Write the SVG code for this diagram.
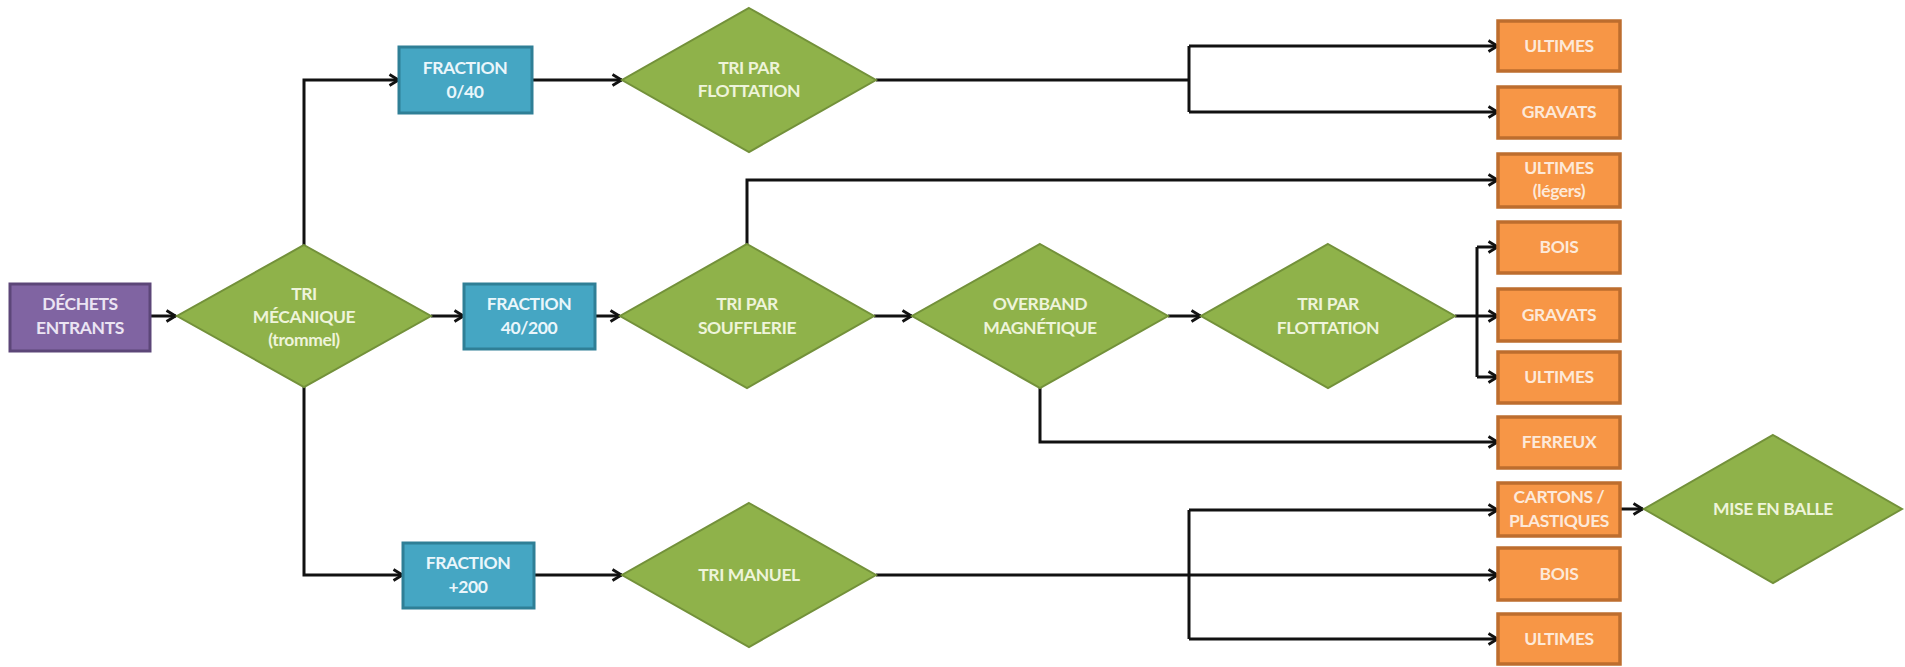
<svg xmlns="http://www.w3.org/2000/svg" width="1905" height="667" viewBox="0 0 1905 667">
<defs>
<marker id="arr" viewBox="0 0 12 14" refX="11" refY="7" markerWidth="12" markerHeight="14" markerUnits="userSpaceOnUse" orient="auto">
<path d="M1.5,1.5 L10.5,7 L1.5,12.5" fill="none" stroke="#111" stroke-width="2.8" stroke-linejoin="miter"/>
</marker>
</defs>
<style>
.txt{font-family:Lato,"Liberation Sans",sans-serif;font-weight:bold;font-size:17.5px;text-anchor:middle;letter-spacing:-0.4px}
.dia{fill:#8fb24a;stroke:#73913a;stroke-width:2}
.dia-t{fill:#eef4da}
.blue{fill:#45a6c3;stroke:#2f7f96;stroke-width:3}
.blue-t{fill:#eaf6fb}
.orange{fill:#f79646;stroke:#bd6d2e;stroke-width:3.5}
.orange-t{fill:#fde9d9}
.purple{fill:#8064a2;stroke:#5c4678;stroke-width:3}
.purple-t{fill:#ebe4f3}
.conn path{fill:none;stroke:#111;stroke-width:3}
</style>
<rect width="1905" height="667" fill="#ffffff"/>

<g id="connectors" class="conn">
<path d="M150,316 H176" marker-end="url(#arr)"/>
<path d="M304,245 V80 H399" marker-end="url(#arr)"/>
<path d="M304,387 V575 H403" marker-end="url(#arr)"/>
<path d="M431,316 H464" marker-end="url(#arr)"/>
<path d="M532,80 H622" marker-end="url(#arr)"/>
<path d="M595,316 H620" marker-end="url(#arr)"/>
<path d="M534,575 H622" marker-end="url(#arr)"/>
<path d="M876,80 H1189"/>
<path d="M1189,46 V112"/>
<path d="M1189,46 H1498" marker-end="url(#arr)"/>
<path d="M1189,112 H1498" marker-end="url(#arr)"/>
<path d="M747,244 V180 H1498" marker-end="url(#arr)"/>
<path d="M874,316 H912" marker-end="url(#arr)"/>
<path d="M1040,388 V442 H1498" marker-end="url(#arr)"/>
<path d="M1168,316 H1201" marker-end="url(#arr)"/>
<path d="M1455,316 H1477"/>
<path d="M1477,247 V377"/>
<path d="M1477,247 H1498" marker-end="url(#arr)"/>
<path d="M1477,316 H1498" marker-end="url(#arr)"/>
<path d="M1477,377 H1498" marker-end="url(#arr)"/>
<path d="M876,575 H1189"/>
<path d="M1189,510 V639"/>
<path d="M1189,510 H1498" marker-end="url(#arr)"/>
<path d="M1189,575 H1498" marker-end="url(#arr)"/>
<path d="M1189,639 H1498" marker-end="url(#arr)"/>
<path d="M1620,509 H1643" marker-end="url(#arr)"/>
</g>

<g id="dechets">
<rect class="purple" x="10" y="284" width="140" height="67"/>
<text class="txt purple-t" x="80" y="310">DÉCHETS</text>
<text class="txt purple-t" x="80" y="334">ENTRANTS</text>
</g>

<g id="tri-mecanique">
<polygon class="dia" points="304,245 431,316 304,387 177,316"/>
<text class="txt dia-t" x="304" y="300">TRI</text>
<text class="txt dia-t" x="304" y="323">MÉCANIQUE</text>
<text class="txt dia-t" x="304" y="346">(trommel)</text>
</g>

<g id="fraction-0-40">
<rect class="blue" x="399" y="47" width="133" height="66"/>
<text class="txt blue-t" x="465" y="74">FRACTION</text>
<text class="txt blue-t" x="465" y="98">0/40</text>
</g>

<g id="tri-flottation-1">
<polygon class="dia" points="749,8 876,80 749,152 622,80"/>
<text class="txt dia-t" x="749" y="74">TRI PAR</text>
<text class="txt dia-t" x="749" y="97">FLOTTATION</text>
</g>

<g id="fraction-40-200">
<rect class="blue" x="464" y="284" width="131" height="65"/>
<text class="txt blue-t" x="529" y="310">FRACTION</text>
<text class="txt blue-t" x="529" y="334">40/200</text>
</g>

<g id="tri-soufflerie">
<polygon class="dia" points="747,244 874,316 747,388 620,316"/>
<text class="txt dia-t" x="747" y="310">TRI PAR</text>
<text class="txt dia-t" x="747" y="334">SOUFFLERIE</text>
</g>

<g id="overband">
<polygon class="dia" points="1040,244 1168,316 1040,388 912,316"/>
<text class="txt dia-t" x="1040" y="310">OVERBAND</text>
<text class="txt dia-t" x="1040" y="334">MAGNÉTIQUE</text>
</g>

<g id="tri-flottation-2">
<polygon class="dia" points="1328,244 1455,316 1328,388 1201,316"/>
<text class="txt dia-t" x="1328" y="310">TRI PAR</text>
<text class="txt dia-t" x="1328" y="334">FLOTTATION</text>
</g>

<g id="fraction-200">
<rect class="blue" x="403" y="543" width="131" height="65"/>
<text class="txt blue-t" x="468" y="569">FRACTION</text>
<text class="txt blue-t" x="468" y="593">+200</text>
</g>

<g id="tri-manuel">
<polygon class="dia" points="749,503 876,575 749,647 622,575"/>
<text class="txt dia-t" x="749" y="581">TRI MANUEL</text>
</g>

<g id="ultimes-1">
<rect class="orange" x="1498" y="21" width="122" height="50"/>
<text class="txt orange-t" x="1559" y="52">ULTIMES</text>
</g>
<g id="gravats-1">
<rect class="orange" x="1498" y="87" width="122" height="51"/>
<text class="txt orange-t" x="1559" y="118">GRAVATS</text>
</g>
<g id="ultimes-legers">
<rect class="orange" x="1498" y="154" width="122" height="53"/>
<text class="txt orange-t" x="1559" y="174">ULTIMES</text>
<text class="txt orange-t" x="1559" y="197">(légers)</text>
</g>
<g id="bois-1">
<rect class="orange" x="1498" y="222" width="122" height="51"/>
<text class="txt orange-t" x="1559" y="253">BOIS</text>
</g>
<g id="gravats-2">
<rect class="orange" x="1498" y="289" width="122" height="52"/>
<text class="txt orange-t" x="1559" y="321">GRAVATS</text>
</g>
<g id="ultimes-3">
<rect class="orange" x="1498" y="352" width="122" height="51"/>
<text class="txt orange-t" x="1559" y="383">ULTIMES</text>
</g>
<g id="ferreux">
<rect class="orange" x="1498" y="417" width="122" height="51"/>
<text class="txt orange-t" x="1559" y="448">FERREUX</text>
</g>
<g id="cartons-plastiques">
<rect class="orange" x="1498" y="483" width="122" height="53"/>
<text class="txt orange-t" x="1559" y="503">CARTONS /</text>
<text class="txt orange-t" x="1559" y="527">PLASTIQUES</text>
</g>
<g id="bois-2">
<rect class="orange" x="1498" y="548" width="122" height="52"/>
<text class="txt orange-t" x="1559" y="580">BOIS</text>
</g>
<g id="ultimes-4">
<rect class="orange" x="1498" y="614" width="122" height="50"/>
<text class="txt orange-t" x="1559" y="645">ULTIMES</text>
</g>

<g id="mise-en-balle">
<polygon class="dia" points="1773,435 1902,509 1773,583 1644,509"/>
<text class="txt dia-t" x="1773" y="515">MISE EN BALLE</text>
</g>
</svg>
